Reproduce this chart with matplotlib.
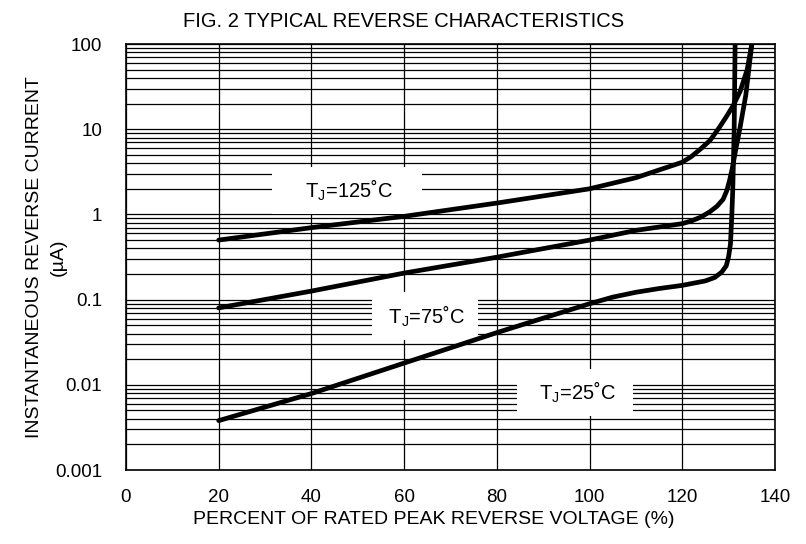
import numpy as np
import matplotlib
matplotlib.use("Agg")
import matplotlib.pyplot as plt
from matplotlib.ticker import LogLocator, FixedLocator

plt.rcParams['font.family'] = ['Liberation Sans', 'DejaVu Sans']
plt.rcParams['mathtext.default'] = 'regular'

# percent of rated peak reverse voltage vs reverse current (uA)
x_125 = [20, 40, 60, 80, 100, 110, 120, 122, 124, 126, 128, 129.5, 131, 132.5, 134, 135]
y_125 = [0.5, 0.7, 0.95, 1.36, 2.0, 2.7, 4.1, 4.8, 5.9, 7.4, 10.5, 14, 19, 28, 50, 100]

x_75 = [20, 40, 60, 80, 100, 110, 120, 122, 124, 126, 127.5, 128.8, 129.6, 130.2, 130.8,
        131.6, 132.4, 133.7, 135]
y_75 = [0.08, 0.126, 0.205, 0.315, 0.5, 0.65, 0.78, 0.84, 0.93, 1.08, 1.25, 1.5, 1.9, 2.5, 3.5,
        6.0, 10, 25, 100]

x_25 = [20, 40, 60, 80, 100, 105, 110, 115, 120, 125, 127, 128.5, 129.5, 130, 130.4,
        130.7, 130.9, 131.2, 131.4]
y_25 = [0.0038, 0.0079, 0.018, 0.041, 0.0895, 0.107, 0.122, 0.135, 0.147, 0.166, 0.182, 0.21,
        0.25, 0.32, 0.45, 1.0, 2.0, 10, 100]

labels = ['    T$_J$=125\u02daC    ', ' T$_J$=75\u02daC ', '  T$_J$=25\u02daC  ']
label_pos = [(47.7, 1.9), (64.5, 0.064), (96.9, 0.0081)]

fig = plt.figure(figsize=(8.06, 5.44), dpi=100)
ax = fig.add_axes([0.1563, 0.136, 0.8052, 0.783])

ax.set_yscale('log')
ax.set_xlim(0, 140)
ax.set_ylim(0.001, 100)

ax.xaxis.set_major_locator(FixedLocator([0, 20, 40, 60, 80, 100, 120, 140]))
ax.yaxis.set_major_locator(FixedLocator([0.001, 0.01, 0.1, 1, 10, 100]))
ax.set_yticklabels(['0.001', '0.01', '0.1', '1', '10', '100'])
ax.yaxis.set_minor_locator(LogLocator(base=10, subs=np.arange(2, 10)))
ax.yaxis.set_minor_formatter(plt.NullFormatter())

ax.grid(True, which='major', axis='x', color='black', lw=0.9)
ax.grid(True, which='both', axis='y', color='black', lw=0.9)
ax.tick_params(which='both', length=0, labelsize=13.5)
ax.tick_params(axis='x', pad=14)
ax.tick_params(axis='y', pad=17)
for s in ax.spines.values():
    s.set_color('black')
    s.set_linewidth(1.2)

ax.plot(x_125, y_125, color='black', lw=3.4, solid_capstyle='round', zorder=4)
ax.plot(x_75, y_75, color='black', lw=3.4, solid_capstyle='round', zorder=4)
ax.plot(x_25, y_25, color='black', lw=3.4, solid_capstyle='round', zorder=4)

for txt, (tx, ty) in zip(labels, label_pos):
    ax.text(tx, ty, txt, fontsize=14.5, ha='center', va='center', zorder=3,
            bbox=dict(facecolor='white', edgecolor='none', pad=8))

ax.set_title('FIG. 2 TYPICAL REVERSE CHARACTERISTICS', fontsize=14.5, x=0.428, pad=12)
ax.set_xlabel('PERCENT OF RATED PEAK REVERSE VOLTAGE (%)', fontsize=14, x=0.475, labelpad=3)
ax.set_ylabel('INSTANTANEOUS REVERSE CURRENT\n(µA)', fontsize=14, linespacing=1.45)
ax.yaxis.set_label_coords(-0.092, 0.5)

fig.savefig('out.png', dpi=100)
